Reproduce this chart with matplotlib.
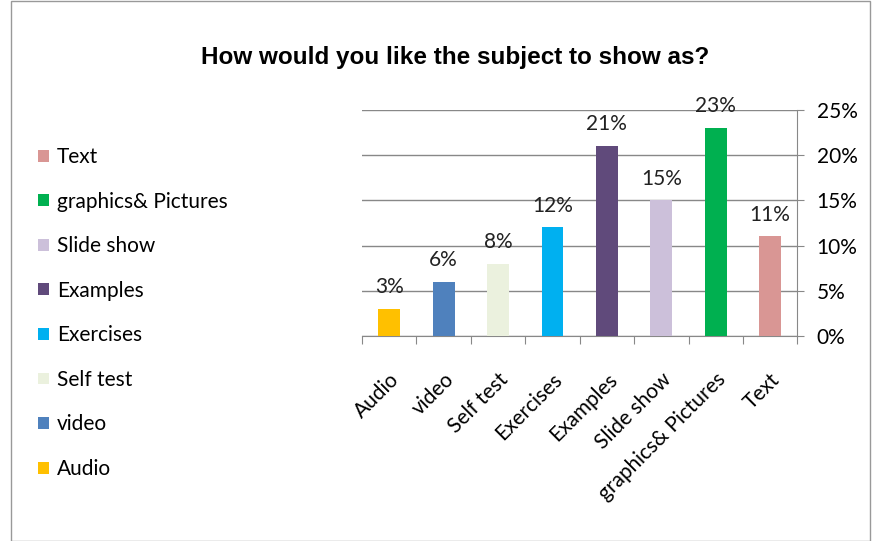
import matplotlib
matplotlib.use("Agg")
import matplotlib.pyplot as plt
from matplotlib.patches import Patch, Rectangle
from matplotlib.ticker import FuncFormatter, MultipleLocator

categories = ["Audio", "video", "Self test", "Exercises", "Examples",
              "Slide show", "graphics& Pictures", "Text"]
values = [3, 6, 8, 12, 21, 15, 23, 11]
colors = ["#FFC000", "#4F81BD", "#EBF1DE", "#00B0F0", "#604A7B",
          "#CCC0DA", "#00B050", "#D99694"]
title = "How would you like the subject to show as?"

plt.rcParams['font.family'] = ['Lato', 'DejaVu Sans']
FS = 15

fig = plt.figure(figsize=(8.81, 5.41), dpi=100)
ax = fig.add_axes([0.411, 0.379, 0.494, 0.418])

x = list(range(len(categories)))
ax.bar(x, values, width=0.4, color=colors, zorder=3)
for xi, v in zip(x, values):
    ax.text(xi, v + 1.3, f"{v}%", ha='center', va='bottom', fontsize=FS, color='#222222')

ax.set_xlim(-0.5, len(categories) - 0.5)
ax.set_ylim(0, 25)
ax.yaxis.set_major_locator(MultipleLocator(5))
ax.yaxis.set_major_formatter(FuncFormatter(lambda v, p: f"{int(v)}%"))
ax.yaxis.tick_right()
ax.yaxis.grid(True, color='#888888', linewidth=1, zorder=0)
ax.tick_params(axis='y', which='major', length=5, color='#888888', labelsize=FS, pad=9)

ax.set_xticks([i - 0.5 for i in range(len(categories) + 1)], minor=False)
ax.set_xticklabels([])
ax.set_xticks(x, minor=True)
ax.set_xticklabels(categories, minor=True, rotation=45, ha='right',
                   rotation_mode='anchor', fontsize=FS)
ax.tick_params(axis='x', which='major', length=6, color='#888888')
ax.tick_params(axis='x', which='minor', length=0, pad=24)

for s in ['top', 'left']:
    ax.spines[s].set_visible(False)
for s in ['bottom', 'right']:
    ax.spines[s].set_color('#888888')

handles = [Patch(facecolor=c, edgecolor='none') for c in colors][::-1]
labels = categories[::-1]
leg = fig.legend(handles, labels, loc='upper left', bbox_to_anchor=(0.022, 0.763),
                 frameon=False, fontsize=FS, handlelength=0.5, handleheight=0.5,
                 handletextpad=0.4, labelspacing=1.18)

fig.text(0.517, 0.893, title, ha='center', va='center', fontsize=17.5,
         fontweight='bold', family=['Liberation Sans', 'DejaVu Sans'])

fig.patches.append(Rectangle((0.012, 0.0), 0.975, 0.998, transform=fig.transFigure,
                             fill=False, edgecolor='#999999', linewidth=1))

fig.savefig("out.png", dpi=100)
